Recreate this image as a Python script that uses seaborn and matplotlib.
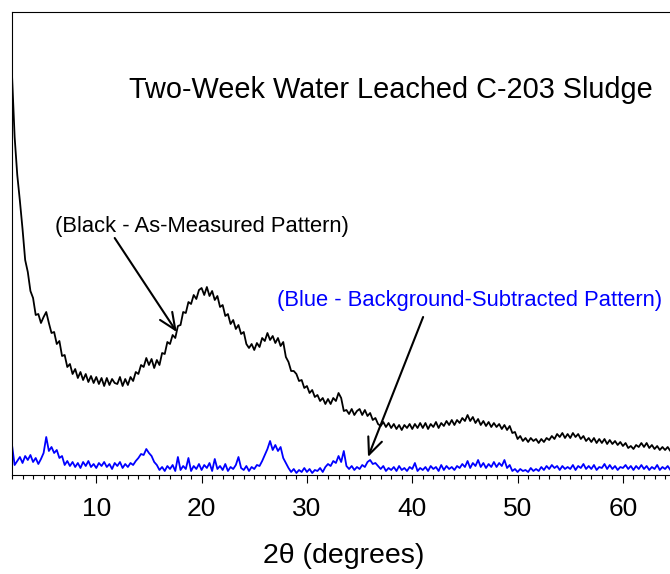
import numpy as np
import pandas as pd
import matplotlib
matplotlib.use('Agg')
import matplotlib.pyplot as plt
from matplotlib.ticker import MultipleLocator
import seaborn as sns

# 2-theta grid, 0.25 degree steps from 2 to 64.5
two_theta = np.arange(2.0, 64.51, 0.25)

# as-measured pattern (black)
measured = [
    400, 338, 300, 274,  246, 215, 203, 184,  177, 160, 161, 152,
    158, 163, 152, 142,  143, 131, 134, 119,  120, 108, 111, 101,
    106, 97, 103, 95,    101, 93, 99, 92,     98, 91, 97, 89,
    97, 90, 96, 92,      91, 98, 89, 96,      90, 98, 94, 103,
    101, 110, 108, 117,  110, 116, 107, 115,  110, 122, 121, 133,
    131, 140, 137, 149,  150, 163, 162, 173,  171, 180, 176, 185,
    187, 180, 188, 179,  184, 175, 179, 168,  170, 159, 161, 151,
    155, 146, 150, 141,  143, 131, 127, 131,  125, 132, 128, 137,
    134, 142, 135, 139,  132, 137, 129, 133,  118, 113, 104, 104,
    101, 94, 95, 87,     89, 82, 85, 78,      80, 74, 77, 71,
    76, 71, 77, 74,      82, 77, 64, 65,      61, 66, 60, 64,
    66, 60, 65, 59,      62, 55, 57, 51,      49, 53, 48, 52,
    47, 51, 46, 50,      45, 50, 47, 51,      46, 51, 47, 52,
    47, 52, 46, 51,      48, 53, 47, 52,      49, 54, 50, 55,
    50, 55, 52, 57,      54, 60, 54, 58,      52, 56, 50, 54,
    49, 53, 48, 52,      48, 51, 46, 50,      45, 49, 42, 43,
    36, 39, 34, 37,      33, 37, 34, 36,      32, 36, 33, 37,
    35, 39, 36, 41,      38, 42, 37, 41,      37, 42, 38, 41,
    36, 39, 34, 37,      33, 37, 32, 36,      32, 36, 31, 35,
    31, 34, 30, 33,      29, 32, 27, 29,      26, 30, 28, 32,
    28, 32, 27, 30,      26, 29, 25, 28,      25, 28, 24,
]

# background-subtracted pattern (blue)
subtracted = [
    30, 10, 14, 18,   12, 19, 15, 20,   13, 17, 11, 16,   22, 38, 24, 28,
    22, 25, 17, 19,   10, 14, 9, 13,    8, 12, 7, 13,     9, 14, 8, 11,
    7, 12, 9, 13,     8, 11, 6, 12,     9, 13, 7, 11,     8, 12, 10, 14,
    17, 21, 20, 26,   22, 19, 13, 10,   5, 8, 4, 9,       6, 10, 4, 18,
    5, 9, 6, 17,      4, 9, 6, 11,      5, 10, 7, 12,     4, 16, 6, 9,
    5, 11, 4, 8,      6, 10, 18, 7,     5, 9, 4, 8,       6, 10, 9, 14,
    20, 26, 34, 25,   30, 24, 28, 17,   12, 7, 3, 6,      2, 5, 3, 7,
    3, 6, 2, 5,       4, 7, 3, 8,       11, 9, 14, 12,    19, 13, 24, 9,
    6, 9, 5, 8,       6, 10, 8, 13,     15, 11, 12, 9,    6, 9, 4, 7,
    5, 8, 4, 9,       5, 7, 4, 8,       6, 12, 4, 7,      5, 8, 4, 9,
    6, 8, 4, 10,      5, 9, 6, 8,       5, 9, 7, 11,      8, 14, 7, 12,
    9, 15, 8, 12,     7, 11, 8, 13,     8, 12, 9, 15,     7, 10, 4, 6,
    3, 6, 4, 5,       3, 7, 4, 6,       4, 8, 5, 9,       6, 10, 7, 9,
    5, 9, 6, 8,       6, 10, 5, 9,      7, 11, 6, 9,      6, 10, 5, 8,
    7, 11, 6, 10,     6, 9, 5, 8,       7, 10, 6, 9,      5, 9, 6, 10,
    6, 9, 5, 8,       6, 10, 5, 8,      6, 9, 5,
]

sns.set_style('ticks')
plt.rcParams['font.family'] = ['Liberation Sans', 'DejaVu Sans']
plt.rcParams['text.color'] = 'black'
plt.rcParams['axes.labelcolor'] = 'black'
plt.rcParams['xtick.color'] = 'black'

df = pd.DataFrame({'two_theta': two_theta, 'measured': measured,
                   'subtracted': subtracted})

fig = plt.figure(figsize=(6.7, 5.74), dpi=100)
ax = fig.add_axes([12 / 670, 99 / 574, 663.6 / 670, 463 / 574])

sns.lineplot(data=df, x='two_theta', y='measured', color='black', lw=1.3, ax=ax)
sns.lineplot(data=df, x='two_theta', y='subtracted', color='#0000ff', lw=1.3, ax=ax)

ax.set_xlim(2, 65)
ax.set_ylim(0, 463)
ax.set_yticks([])
ax.set_ylabel('')
ax.set_xlabel('2\u03b8 (degrees)', fontsize=20.5, labelpad=16)

ax.xaxis.set_major_locator(MultipleLocator(10))
ax.xaxis.set_minor_locator(MultipleLocator(1))
ax.tick_params(axis='x', which='major', direction='out', length=5.5, width=0.8,
               labelsize=19, pad=10, color='black', labelcolor='black')
ax.tick_params(axis='x', which='minor', direction='out', length=3.2, width=0.8,
               color='black')
for s in ['left', 'top', 'bottom']:
    ax.spines[s].set_color('black')
    ax.spines[s].set_linewidth(0.8)
ax.spines['right'].set_visible(False)

ax.text(13.07, 377, 'Two-Week Water Leached C-203 Sludge', fontsize=20.8,
        ha='left', va='baseline', color='black')
ax.text(6.04, 243, '(Black - As-Measured Pattern)', fontsize=15.8,
        ha='left', va='baseline', color='black')
ax.text(27.14, 169, '(Blue - Background-Subtracted Pattern)', fontsize=15.8,
        ha='left', va='baseline', color='#0000ff')

arrow = dict(arrowstyle='->,head_length=0.8,head_width=0.35', lw=1.5,
             color='black', shrinkA=0, shrinkB=0, mutation_scale=15)
ax.annotate('', xy=(17.64, 143), xytext=(11.75, 237), arrowprops=arrow)
ax.annotate('', xy=(35.8, 18), xytext=(41.03, 158), arrowprops=arrow)

fig.savefig('out.png', dpi=100)
